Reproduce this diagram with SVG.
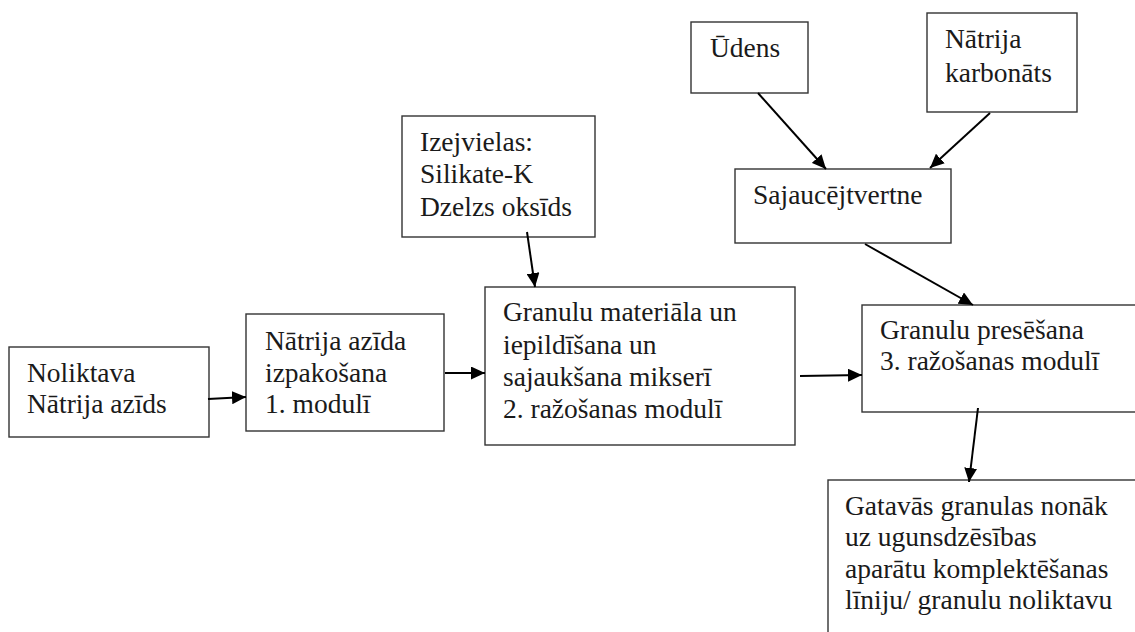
<svg xmlns="http://www.w3.org/2000/svg" width="1135" height="632" viewBox="0 0 1135 632">
<style>
.box{fill:#fff;stroke:#333;stroke-width:1.4}
.t{font-size:27.5px;fill:#1a1a1a}
.c{stroke:#000;stroke-width:2;fill:none;marker-end:url(#ah)}
</style>
<defs>
<marker id="ah" markerUnits="userSpaceOnUse" markerWidth="15" markerHeight="13" refX="14" refY="6.5" orient="auto">
<path d="M0,0 L14,6.5 L0,13 Z" fill="#000"/>
</marker>
</defs>
<rect width="1135" height="632" fill="#fff"/>
<g font-family="'Liberation Serif', 'Times New Roman', Times, 'DejaVu Serif', serif">
<g id="n-noliktava">
<rect class="box" x="9" y="347" width="200" height="90"/>
<text class="t" x="27" y="382">Noliktava</text>
<text class="t" x="27" y="413">Nātrija azīds</text>
</g>
<g id="n-izpakosana">
<rect class="box" x="246" y="314" width="198" height="117"/>
<text class="t" x="265" y="350">Nātrija azīda</text>
<text class="t" x="265" y="382">izpakošana</text>
<text class="t" x="265" y="413">1. modulī</text>
</g>
<g id="n-izejvielas">
<rect class="box" x="402" y="116" width="193" height="121"/>
<text class="t" x="420" y="151">Izejvielas:</text>
<text class="t" x="420" y="183">Silikate-K</text>
<text class="t" x="420" y="216">Dzelzs oksīds</text>
</g>
<g id="n-mikseris">
<rect class="box" x="485" y="287" width="310" height="158"/>
<text class="t" x="503" y="321">Granulu materiāla un</text>
<text class="t" x="503" y="354">iepildīšana un</text>
<text class="t" x="503" y="386">sajaukšana mikserī</text>
<text class="t" x="503" y="418">2. ražošanas modulī</text>
</g>
<g id="n-udens">
<rect class="box" x="691" y="22" width="117" height="71"/>
<text class="t" x="710" y="57">Ūdens</text>
</g>
<g id="n-karbonats">
<rect class="box" x="927" y="13" width="150" height="99"/>
<text class="t" x="945" y="48">Nātrija</text>
<text class="t" x="945" y="82">karbonāts</text>
</g>
<g id="n-sajaucejtvertne">
<rect class="box" x="735" y="169" width="216" height="74"/>
<text class="t" x="753" y="204">Sajaucējtvertne</text>
</g>
<g id="n-presesana">
<rect class="box" x="862" y="305" width="290" height="107"/>
<text class="t" x="880" y="339">Granulu presēšana</text>
<text class="t" x="880" y="370">3. ražošanas modulī</text>
</g>
<g id="n-gatavas">
<rect class="box" x="828" y="480" width="330" height="170"/>
<text class="t" x="845" y="515">Gatavās granulas nonāk</text>
<text class="t" x="845" y="546">uz ugunsdzēsības</text>
<text class="t" x="845" y="578">aparātu komplektēšanas</text>
<text class="t" x="845" y="609">līniju/ granulu noliktavu</text>
</g>
</g>
<g id="connectors">
<line class="c" x1="208" y1="399" x2="246" y2="397"/>
<line class="c" x1="445" y1="373" x2="485" y2="373"/>
<line class="c" x1="527" y1="232" x2="535" y2="287"/>
<line class="c" x1="758" y1="93" x2="826" y2="169"/>
<line class="c" x1="990" y1="113" x2="930" y2="168"/>
<line class="c" x1="865" y1="244" x2="973" y2="305"/>
<line class="c" x1="800" y1="376" x2="862" y2="375"/>
<line class="c" x1="978" y1="408" x2="969" y2="482"/>
</g>
</svg>
